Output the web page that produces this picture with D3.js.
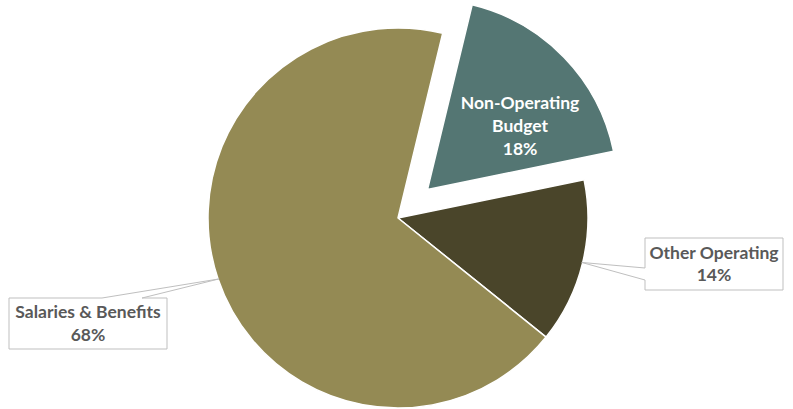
<!DOCTYPE html>
<html>
<head>
<meta charset="utf-8">
<script src="https://cdn.jsdelivr.net/npm/d3@7"></script>
<style>
  html, body { margin: 0; padding: 0; background: #ffffff; }
  svg { display: block; }
  text { font-family: Lato, "Open Sans", sans-serif; font-weight: bold; }
</style>
</head>
<body>
<svg id="chart" width="793" height="409"></svg>
<script>
// Budget shares, in percent, in clockwise drawing order
const categories = ["Non-Operating Budget", "Other Operating", "Salaries & Benefits"];
const values = [18, 14, 68];
const labelLines = [["Non-Operating", "Budget"], ["Other Operating"], ["Salaries & Benefits"]];
const colors = ["#547673", "#4A452A", "#948A54"];

const width = 793, height = 409;
const cx = 398, cy = 218, radius = 190;
const startDeg = 13.6;
const explodeDist = 41;
const fontSize = 17.5;

const svg = d3.select("#chart");
const g = svg.append("g").attr("transform", `translate(${cx},${cy})`);

const pie = d3.pie()
  .sort(null)
  .value(d => d)
  .startAngle(startDeg * Math.PI / 180)
  .endAngle(startDeg * Math.PI / 180 + 2 * Math.PI);

const arcs = pie(values);
const arc = d3.arc().innerRadius(0).outerRadius(radius);

// point on a circle for an angle measured clockwise from 12 o'clock
const polar = (a, r) => [Math.sin(a) * r, -Math.cos(a) * r];

// the first slice is pulled out from the pie
const offsetOf = i => {
  if (i !== 0) return [0, 0];
  const mid = (arcs[i].startAngle + arcs[i].endAngle) / 2;
  return polar(mid, explodeDist);
};

g.selectAll("path.slice")
  .data(arcs)
  .join("path")
  .attr("class", "slice")
  .attr("d", arc)
  .attr("fill", (d, i) => colors[i])
  .attr("stroke", "#ffffff")
  .attr("stroke-width", 1.5)
  .attr("stroke-linejoin", "round")
  .attr("transform", (d, i) => `translate(${offsetOf(i)})`);

const fmt = v => `${Math.round(v)}%`;

// label inside the exploded slice
{
  const d = arcs[0];
  const [ox, oy] = offsetOf(0);
  const mid = (d.startAngle + d.endAngle) / 2 + 0.17;
  const [lx, ly] = polar(mid, 112);
  const t = g.append("text")
    .attr("text-anchor", "middle")
    .attr("fill", "#ffffff")
    .attr("font-size", fontSize)
    .attr("transform", `translate(${ox + lx},${oy + ly})`);
  const lines = labelLines[0].concat([fmt(values[0])]);
  lines.forEach((s, k) => {
    t.append("tspan").attr("x", 0).attr("y", (k - 1) * 23 + 6).text(s);
  });
}

// callout labels with a pointer from the slice edge
const callouts = [
  { i: 1, box: [645, 238, 138, 52], tip: "left", tipA: 268, tipB: 280 },
  { i: 2, box: [9, 298, 158, 51], tip: "top", tipA: 102, tipB: 142 }
];

callouts.forEach(c => {
  const d = arcs[c.i];
  const mid = (d.startAngle + d.endAngle) / 2;
  const [px, py] = polar(mid, radius - 1);
  const ax = cx + px, ay = cy + py;
  const [bx, by, bw, bh] = c.box;

  let outline;
  if (c.tip === "left") {
    outline = [[bx, by], [bx + bw, by], [bx + bw, by + bh], [bx, by + bh],
               [bx, c.tipB], [ax, ay], [bx, c.tipA]];
  } else {
    outline = [[bx, by], [c.tipA, by], [ax, ay], [c.tipB, by], [bx + bw, by],
               [bx + bw, by + bh], [bx, by + bh]];
  }
  svg.append("path")
    .attr("d", d3.line()(outline) + "Z")
    .attr("fill", "#ffffff")
    .attr("stroke", "#BFBFBF")
    .attr("stroke-width", 1);

  const t = svg.append("text")
    .attr("text-anchor", "middle")
    .attr("fill", "#595959")
    .attr("font-size", fontSize)
    .attr("transform", `translate(${bx + bw / 2},${by + bh / 2})`);
  const lines = labelLines[c.i].concat([fmt(values[c.i])]);
  lines.forEach((s, k) => {
    t.append("tspan").attr("x", 0).attr("y", (k - 0.5) * 22.5 + 6).text(s);
  });
});
</script>
</body>
</html>
